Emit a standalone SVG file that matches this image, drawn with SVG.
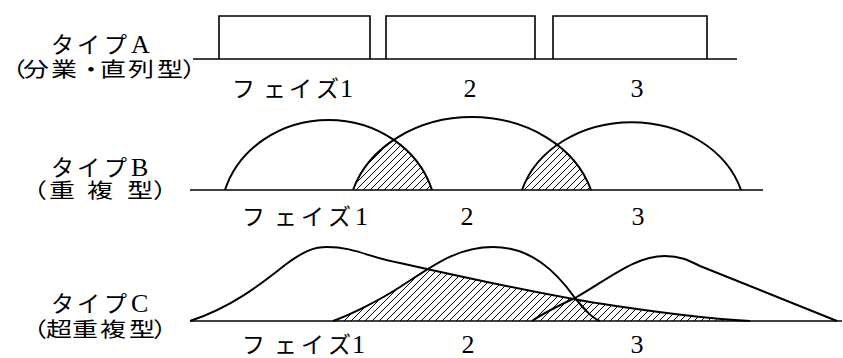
<svg xmlns="http://www.w3.org/2000/svg" xmlns:xlink="http://www.w3.org/1999/xlink" width="843" height="358" viewBox="0 0 843 358">
<style>
.bg{fill:#fff}
.ln{fill:none;stroke:#000;stroke-width:1.6}
.cv{fill:none;stroke:#000;stroke-width:2}
.ht{fill:url(#hatch);stroke:none}
.jp{font-family:"Liberation Serif","Noto Sans CJK JP",serif;font-size:23px;fill:#000}
.pj{font-family:"Liberation Serif","Noto Sans CJK JP",serif;font-size:26px;fill:#000}
.lat{font-family:"Liberation Serif",serif;font-size:26px}
.num{font-family:"Liberation Serif",serif;font-size:26px;fill:#000;text-anchor:middle}
</style>
<defs>
<pattern id="hatch" patternUnits="userSpaceOnUse" width="7" height="7">
<path d="M0,7 L7,0 M-1,1 L1,-1 M6,8 L8,6" stroke="#000" stroke-width="1"/>
</pattern>
<path id="b1" d="M225,190 A108,98 0 0 1 432,190 Z"/>
<path id="b2" d="M353,190 A124,101.5 0 0 1 591,190 Z"/>
<path id="b3" d="M522,190 A114,94 0 0 1 741,190 Z"/>
<path id="c1" d="M190,321 C230,308 260,285 285,265 C305,250 315,247 327,247 C355,247 370,258 400,263 C440,272 520,290 590,302 C660,313 710,319 750,321 Z"/>
<path id="c2" d="M333,321 C350,315 380,300 400,287 C430,268 455,247 493,247 C530,247 555,270 575,298 C585,310 592,318 600,321 Z"/>
<path id="c3" d="M532,321 C545,312 560,305 575,298 C610,278 635,256 665,256 C680,256 688,260 700,266 L837,321 Z"/>
<clipPath id="clipB1"><use xlink:href="#b1"/></clipPath>
<clipPath id="clipB2"><use xlink:href="#b2"/></clipPath>
<clipPath id="clipC1"><use xlink:href="#c1"/></clipPath>
<clipPath id="clipC2"><use xlink:href="#c2"/></clipPath>
</defs>
<rect class="bg" x="0" y="0" width="843" height="358"/>

<g id="typeA">
<text class="jp" y="53"><tspan x="51 77 104">タイプ</tspan><tspan class="lat" x="131">A</tspan></text>
<text class="pj" transform="translate(0,77) scale(1,0.8)" x="0 23 51 78 100 128 157 182" y="0">（分業・直列型）</text>
<path class="ln" d="M193,59 H737"/>
<g id="phaseA1"><path class="ln" d="M219,59 V16 H370 V59" stroke-width="2"/></g>
<g id="phaseA2"><path class="ln" d="M386,59 V16 H535 V59" stroke-width="2"/></g>
<g id="phaseA3"><path class="ln" d="M553,59 V16 H707 V59" stroke-width="2"/></g>
<text class="jp" y="97"><tspan x="232 263 289 316">フェイズ</tspan><tspan class="lat" x="340">1</tspan></text>
<text class="num" x="470" y="97">2</text>
<text class="num" x="637" y="97">3</text>
</g>

<g id="typeB">
<text class="jp" y="176"><tspan x="51 77 104">タイプ</tspan><tspan class="lat" x="131">B</tspan></text>
<text class="pj" transform="translate(0,198) scale(1,0.8)" x="21 49 87 127 153" y="0">（重複型）</text>
<g id="hatchB">
<use xlink:href="#b2" class="ht" clip-path="url(#clipB1)"/>
<use xlink:href="#b3" class="ht" clip-path="url(#clipB2)"/>
</g>
<path class="ln" d="M190,190 H763"/>
<g id="phaseB1"><path class="cv" d="M225,190 A108,98 0 0 1 432,190"/></g>
<g id="phaseB2"><path class="cv" d="M353,190 A124,101.5 0 0 1 591,190"/></g>
<g id="phaseB3"><path class="cv" d="M522,190 A114,94 0 0 1 741,190"/></g>
<text class="jp" y="225"><tspan x="242 274 301 328">フェイズ</tspan><tspan class="lat" x="355">1</tspan></text>
<text class="num" x="467" y="225">2</text>
<text class="num" x="638" y="225">3</text>
</g>

<g id="typeC">
<text class="jp" y="312"><tspan x="51 77 104">タイプ</tspan><tspan class="lat" x="131">C</tspan></text>
<text class="pj" transform="translate(0,337) scale(1,0.8)" x="21 46 72 100 129 153" y="0">（超重複型）</text>
<g id="hatchC">
<use xlink:href="#c2" class="ht" clip-path="url(#clipC1)"/>
<use xlink:href="#c3" class="ht" clip-path="url(#clipC1)"/>
<use xlink:href="#c3" class="ht" clip-path="url(#clipC2)"/>
</g>
<path class="ln" d="M190,321 H842"/>
<g id="phaseC1"><path class="cv" d="M190,321 C230,308 260,285 285,265 C305,250 315,247 327,247 C355,247 370,258 400,263 C440,272 520,290 590,302 C660,313 710,319 750,321"/></g>
<g id="phaseC2"><path class="cv" d="M333,321 C350,315 380,300 400,287 C430,268 455,247 493,247 C530,247 555,270 575,298 C585,310 592,318 600,321"/></g>
<g id="phaseC3"><path class="cv" d="M532,321 C545,312 560,305 575,298 C610,278 635,256 665,256 C680,256 688,260 700,266 L837,321"/></g>
<text class="jp" y="353"><tspan x="242 274 301 328">フェイズ</tspan><tspan class="lat" x="352">1</tspan></text>
<text class="num" x="468" y="353">2</text>
<text class="num" x="637" y="353">3</text>
</g>
</svg>
